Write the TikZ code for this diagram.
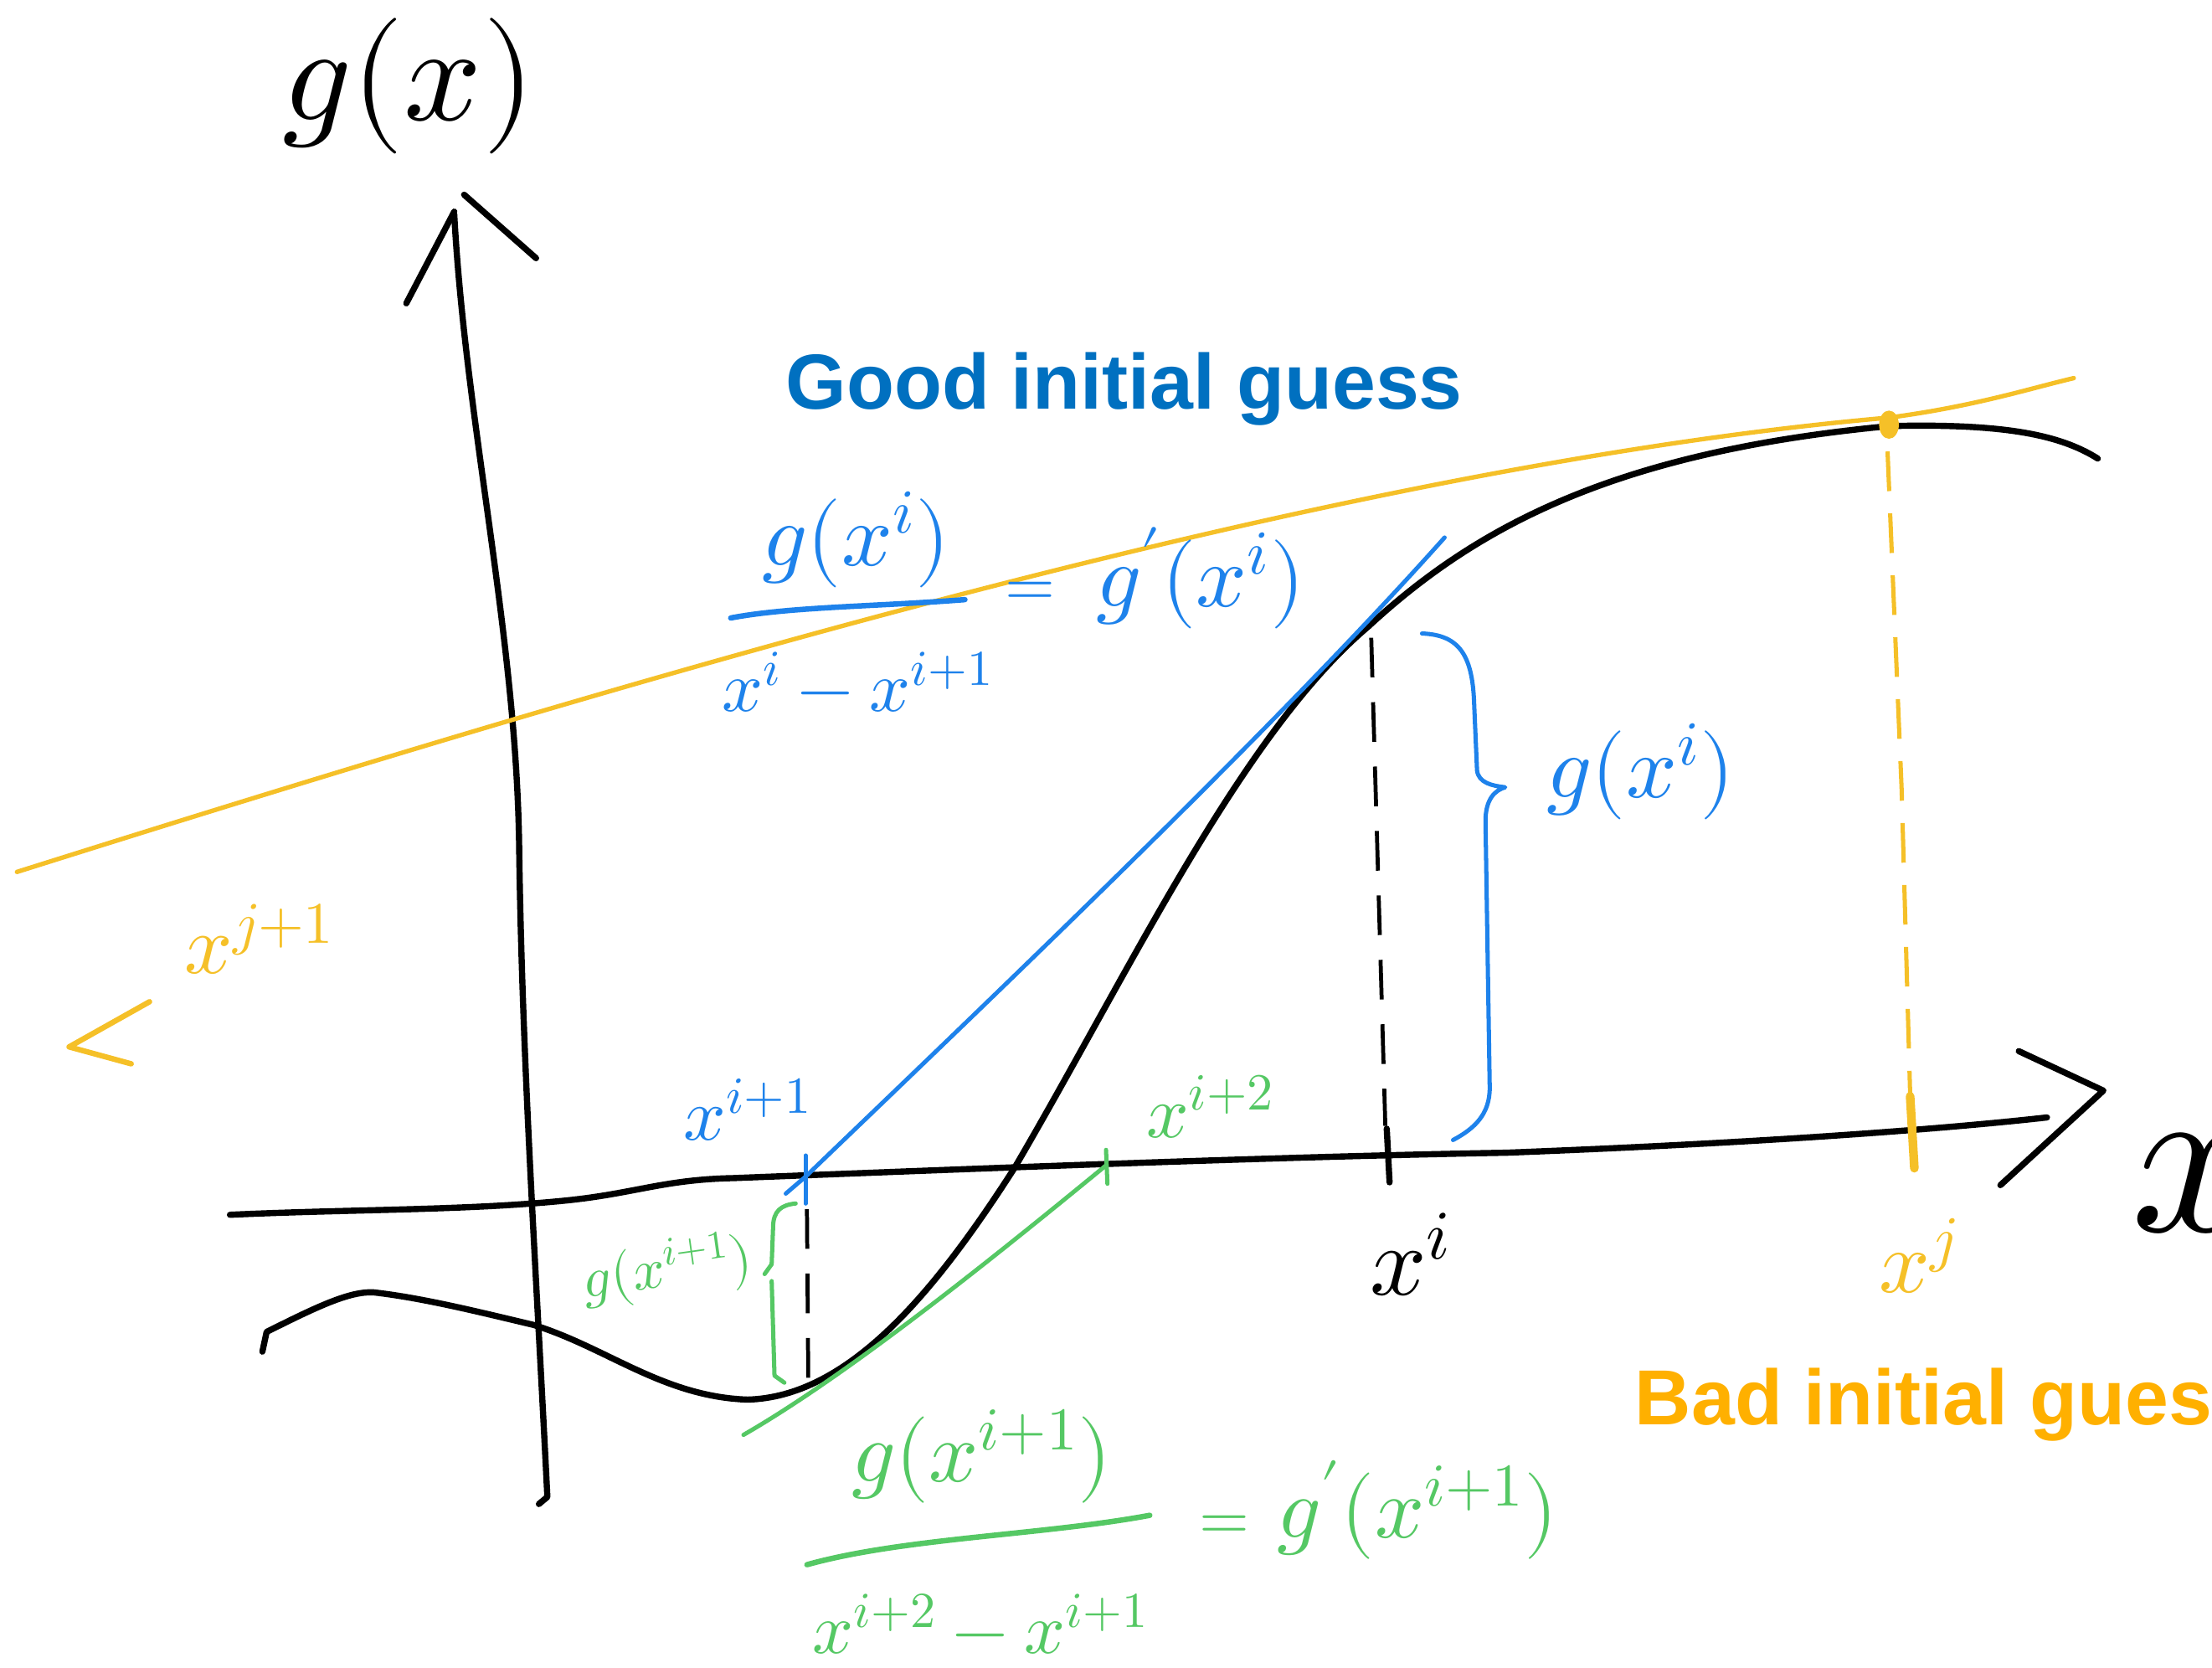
\documentclass[tikz,border=0pt]{standalone}
\usepackage{fontspec}
\usepackage{unicode-math}
\setmathfont{Latin Modern Math}
\newfontfamily\headfont{Liberation Sans}
\definecolor{inkblue}{RGB}{30,130,235}
\definecolor{inkgreen}{RGB}{85,200,100}
\definecolor{inkyellow}{RGB}{245,192,40}
\definecolor{goodblue}{RGB}{0,112,192}
\definecolor{badorange}{RGB}{255,176,0}
\newcommand\myfs[1]{\fontsize{#1pt}{#1pt}\selectfont}
\begin{document}
\begin{tikzpicture}[x=0.02cm,y=-0.02cm,
  blackink/.style={draw=black,line width=2.5pt,line cap=round,line join=round},
  blueink/.style={draw=inkblue,line width=1.7pt,line cap=round,line join=round},
  greenink/.style={draw=inkgreen,line width=1.7pt,line cap=round,line join=round},
  yellowink/.style={draw=inkyellow,line width=1.8pt,line cap=round,line join=round},
  blackdash/.style={draw=black,line width=1.6pt,dash pattern=on 16pt off 10pt},
  yellowdash/.style={draw=inkyellow,line width=1.7pt,dash pattern=on 16pt off 9pt},
  lbl/.style={inner sep=0pt,outer sep=0pt},
  headline/.style={lbl,font=\headfont\bfseries\myfs{31.5}},
]
\path[use as bounding box] (0,0) rectangle (1568,1182);
\clip (0,0) rectangle (1568,1182);

% ---------- axes ----------
\draw[blackink] (322,152) .. controls (330,300) and (366,450) .. (368,600)
  .. controls (370,750) and (380,900) .. (388,1061) -- (382,1066);
\draw[blackink] (288,215) -- (322,150);
\draw[blackink] (329,138) -- (380,183);
\draw[blackink] (163,861) .. controls (250,857) and (330,858) .. (400,851)
  .. controls (450,846) and (470,836) .. (520,835)
  .. controls (700,828) and (900,820) .. (1068,817)
  .. controls (1250,810) and (1380,800) .. (1451,792);
\draw[blackink] (1431,745) -- (1491,773) -- (1418,840);

% ---------- the function g ----------
\draw[blackink] (186,958) -- (189,944)
  .. controls (225,926) and (248,915) .. (265,916)
  .. controls (300,920) and (340,930) .. (378,939)
  .. controls (430,955) and (470,990) .. (530,992)
  .. controls (600,990) and (660,920) .. (719,828)
  .. controls (800,690) and (880,520) .. (970,444)
  .. controls (1050,370) and (1150,320) .. (1339,302)
  .. controls (1420,300) and (1460,308) .. (1487,325);

% ---------- dashed drops ----------
\draw[blackdash] (972,452) -- (982,798);
\draw[blackink] (983,800) -- (985,838);
\draw[blackdash] (572,857) -- (573,985);

% ---------- yellow (bad guess) ----------
\draw[yellowink] (12,618) .. controls (450,480) and (950,330) .. (1339,296)
  .. controls (1400,288) and (1440,275) .. (1470,268);
\fill[inkyellow] (1339,301) ellipse [x radius=7, y radius=10];
\draw[yellowdash] (1338,320) -- (1348,560) -- (1354,775);
\draw[draw=inkyellow,line width=3.5pt,line cap=round] (1354,777) -- (1357,828);
\draw[yellowink,line width=2.2pt] (106,710) -- (49,742) -- (93,754);

% ---------- blue (good guess, tangent at x^i) ----------
\draw[blueink] (557,846) -- (571,834) .. controls (700,710) and (900,520) .. (1024,381);
\draw[blueink] (571,819) -- (571,853);
\draw[blueink] (1008,449) .. controls (1035,450) and (1044,465) .. (1045,500) -- (1047,546)
  .. controls (1048,555) and (1058,557) .. (1067,558)
  .. controls (1060,560) and (1053,566) .. (1053,582) -- (1056,771)
  .. controls (1056,790) and (1045,800) .. (1030,808);
\draw[blueink,line width=2.2pt] (518,438) .. controls (560,430) and (620,430) .. (684,425);

% ---------- green (tangent at x^{i+1}) ----------
\draw[greenink] (527,1017) .. controls (600,975) and (700,895) .. (784,826);
\draw[greenink] (784,815) -- (785,839);
\draw[greenink] (564,853) .. controls (554,854) and (548,858) .. (548,870) -- (547,896) -- (542,903);
\draw[greenink] (547,908) -- (549,975) -- (556,980);
\draw[greenink,line width=2.2pt] (572,1109) .. controls (640,1090) and (740,1088) .. (815,1074);

% ---------- labels ----------
\node[lbl,anchor=base,font=\myfs{55}] (gxlabel) at (290,85) {$g(x)$};
\node[lbl,anchor=base,font=\myfs{90}] (xlabel) at (1556,873) {$x$};
\node[headline,text=goodblue,anchor=base west] (good) at (557,290) {Good initial guess};
\node[headline,text=badorange,anchor=base west] (bad) at (1159,1010) {Bad initial guess};

\node[lbl,anchor=base,text=inkblue,font=\myfs{36}] (bnum) at (607,401) {$g(x^i)$};
\node[lbl,anchor=base,text=inkblue,font=\myfs{29}] (bden) at (608,504) {$x^i-x^{i+1}$};
\node[lbl,text=inkblue,font=\myfs{26}] (beq) at (730,421) {$=$};
\node[lbl,anchor=base,text=inkblue,font=\myfs{36}] (bder) at (851,430) {$g'(x^i)$};
\node[lbl,anchor=base,text=inkblue,font=\myfs{36}] (bgxi) at (1163,565) {$g(x^i)$};
\node[lbl,anchor=base,text=inkblue,font=\myfs{30}] (bxi1) at (530,808) {$x^{i+1}$};

\node[lbl,anchor=base,text=inkgreen,font=\myfs{30}] (gxi2) at (858,806) {$x^{i+2}$};
\node[lbl,text=inkgreen,font=\myfs{23},rotate=8] (ggxi1) at (473,900) {$g(x^{i+1})$};
\node[lbl,anchor=base,text=inkgreen,font=\myfs{35}] (gnum) at (696,1050) {$g(x^{i+1})$};
\node[lbl,anchor=base,text=inkgreen,font=\myfs{29}] (gden) at (695,1172) {$x^{i+2}-x^{i+1}$};
\node[lbl,text=inkgreen,font=\myfs{26}] (geq) at (868,1083) {$=$};
\node[lbl,anchor=base,text=inkgreen,font=\myfs{35}] (gder) at (1005,1090) {$g'(x^{i+1})$};

\node[lbl,anchor=base,font=\myfs{40}] (xi) at (1000,918) {$x^i$};
\node[lbl,anchor=base,text=inkyellow,font=\myfs{36}] (xj) at (1360,916) {$x^j$};
\node[lbl,anchor=base,text=inkyellow,font=\myfs{34}] (xj1) at (184,690) {$x^{j+1}$};
\end{tikzpicture}
\end{document}
